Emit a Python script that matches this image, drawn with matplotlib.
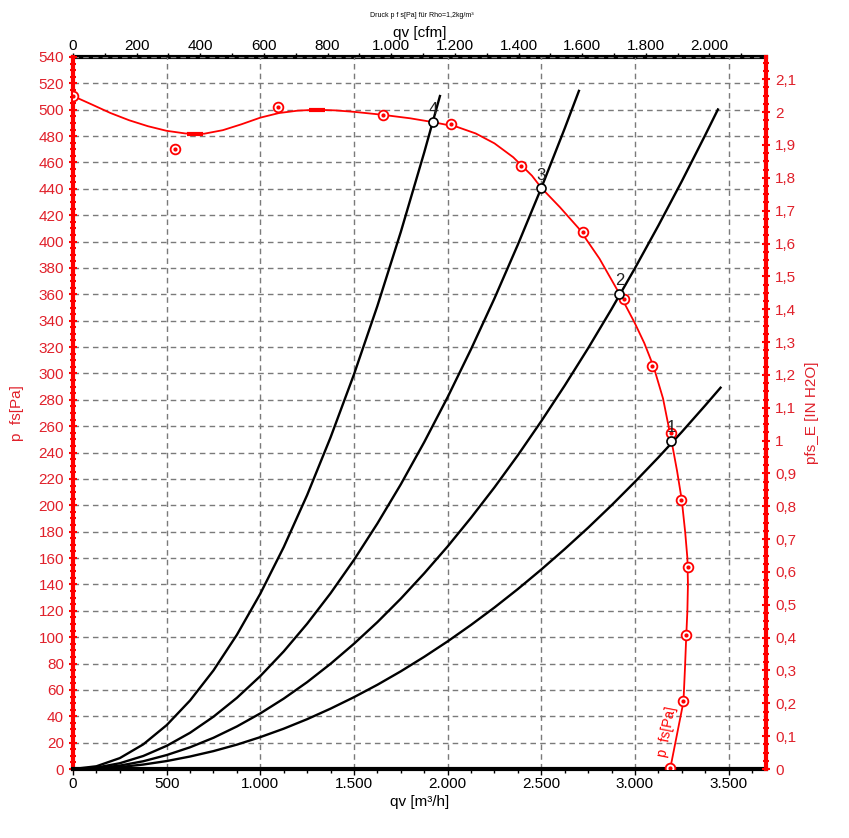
import numpy as np
import matplotlib.pyplot as plt
from matplotlib.ticker import MultipleLocator, FixedLocator, FuncFormatter

plt.rcParams['font.family'] = ['Liberation Sans', 'DejaVu Sans']

# fan curve p_fs [Pa] over qv [m3/h]
fan_qv = [0, 100, 200, 300, 400, 500, 600, 700, 800, 900, 1000, 1100, 1200, 1300, 1400,
          1500, 1650, 1800, 1922, 2050, 2150, 2250, 2350, 2450, 2500, 2600, 2700, 2811,
          2917, 3000, 3050, 3100, 3150, 3195, 3225, 3250, 3268, 3280, 3283, 3280, 3274,
          3267, 3259, 3188]
fan_p = [510.4, 504, 497.5, 492, 487.5, 484, 482, 481.8, 484.5, 489, 494, 497.5, 499.3,
         500, 499.5, 498.4, 496.2, 493.5, 490.6, 487, 482, 474.5, 464, 450, 440.8, 426,
         410, 387, 360.5, 338, 323, 305, 281, 249, 226, 204, 180, 160, 140, 120, 101,
         76, 51, 0]

# measured points
meas_qv = [0, 547, 1092, 1653, 2017, 2390, 2722, 2939, 3093, 3190, 3248, 3282, 3273, 3259, 3188]
meas_p = [510.4, 470, 502.4, 496.3, 489.2, 457.2, 407, 356.3, 306, 255, 204, 153.5, 101.5, 51.3, 0.5]

# short thick marks on the fan curve
dash_qv = [650, 1300]
dash_p = [481.8, 500]

# system curves
sys_qv_1 = [0, 125, 250, 375, 500, 625, 750, 875, 1000, 1125, 1250, 1375, 1500, 1625, 1750,
            1875, 2000, 2125, 2250, 2375, 2500, 2625, 2750, 2875, 3000, 3125, 3250, 3375, 3457]
sys_p_1 = [0, 0.4, 1.5, 3.4, 6.05, 9.5, 13.6, 18.5, 24.2, 30.6, 37.8, 45.8, 54.5, 63.9, 74.1,
           85.1, 96.8, 109.3, 122.5, 136.5, 151.3, 166.8, 183, 200, 217.8, 236.3, 255.6, 275.7, 289.2]
sys_qv_2 = [0, 125, 250, 375, 500, 625, 750, 875, 1000, 1125, 1250, 1375, 1500, 1625, 1750,
            1875, 2000, 2125, 2250, 2375, 2500, 2625, 2750, 2875, 3000, 3125, 3250, 3375, 3443]
sys_p_2 = [0, 0.7, 2.6, 5.9, 10.6, 16.5, 23.7, 32.3, 42.2, 53.4, 65.9, 79.8, 95, 111.4, 129.2,
           148.4, 168.8, 190.6, 213.6, 238, 263.8, 290.8, 319.1, 348.8, 379.8, 412.1, 445.7, 480.7, 500.2]
sys_qv_3 = [0, 125, 250, 375, 500, 625, 750, 875, 1000, 1125, 1250, 1375, 1500, 1625, 1750,
            1875, 2000, 2125, 2250, 2375, 2500, 2625, 2701]
sys_p_3 = [0, 1.1, 4.4, 9.9, 17.6, 27.5, 39.7, 54, 70.5, 89.2, 110.2, 133.3, 158.6, 186.2, 215.9,
           247.9, 282, 318.4, 356.9, 397.7, 440.6, 485.8, 514.3]
sys_qv_4 = [0, 125, 250, 375, 500, 625, 750, 875, 1000, 1125, 1250, 1375, 1500, 1625, 1750,
            1875, 1959]
sys_p_4 = [0, 2.1, 8.3, 18.7, 33.3, 52, 74.8, 101.8, 133, 168.3, 207.8, 251.5, 299.3, 351.2, 407.3,
           467.6, 510.4]

# operating points
op_qv = [3195, 2917, 2500, 1922]
op_p = [249, 360.5, 440.8, 490.6]
op_labels = ['1', '2', '3', '4']

# top axis ticks [cfm]
cfm_ticks = [0, 200, 400, 600, 800, 1000, 1200, 1400, 1600, 1800, 2000]
cfm_minor = [100, 300, 500, 700, 900, 1100, 1300, 1500, 1700, 1900, 2100]

RED = '#ff0000'
RED_TXT = '#e0202a'
GRID = '#7a7a7a'

def dot_thousands(v, pos=None):
    return f"{int(round(v)):,}".replace(",", ".")

def comma_dec(v, pos=None):
    if abs(v - round(v)) < 1e-6:
        return str(int(round(v)))
    return f"{v:.1f}".replace(".", ",")

fig = plt.figure(figsize=(8.49, 8.38), dpi=100)
ax = fig.add_axes([0.086, 0.0823, 0.8163, 0.8497])

ax.set_xlim(0, 3700)
ax.set_ylim(0, 540)

ax.xaxis.set_major_locator(MultipleLocator(500))
ax.xaxis.set_minor_locator(MultipleLocator(125))
ax.yaxis.set_major_locator(MultipleLocator(20))
ax.yaxis.set_minor_locator(MultipleLocator(5))
ax.xaxis.set_major_formatter(FuncFormatter(dot_thousands))
ax.grid(True, which='major', color=GRID, linestyle=(0, (4, 3)), linewidth=1)

# system curves
for q, p in [(sys_qv_1, sys_p_1), (sys_qv_2, sys_p_2), (sys_qv_3, sys_p_3), (sys_qv_4, sys_p_4)]:
    ax.plot(q, p, color='black', lw=1.7, zorder=3)

# fan curve
ax.plot(fan_qv, fan_p, color=RED, lw=1.3, zorder=4)
ax.plot(dash_qv, dash_p, linestyle='none', marker='_', ms=11, mew=3, color=RED, zorder=5)
ax.plot(meas_qv, meas_p, linestyle='none', marker='o', ms=7, mfc='white', mec=RED, mew=1.3, zorder=6)
ax.plot(meas_qv, meas_p, linestyle='none', marker='o', ms=2, color=RED, zorder=7)

# operating points
ax.plot(op_qv, op_p, linestyle='none', marker='o', ms=6.5, mfc='white', mec='black', mew=1.2, zorder=8)
for q, p, t in zip(op_qv, op_p, op_labels):
    ax.text(q, p + 4, t, fontsize=12, color='#222222', ha='center', va='bottom', zorder=9)

ax.text(3172, 28, 'p  fs[Pa]', color=RED, fontsize=10, rotation=79,
        ha='center', va='center', zorder=9)

# spines and ticks
ax.spines['left'].set_color(RED)
ax.spines['left'].set_linewidth(3)
ax.spines['bottom'].set_linewidth(3)
ax.spines['top'].set_visible(False)
ax.spines['right'].set_visible(False)
ax.tick_params(axis='y', colors=RED, labelcolor=RED_TXT, labelsize=11, direction='inout',
               length=6, width=1.5)
ax.tick_params(axis='y', which='minor', colors=RED, direction='inout', length=4, width=1.5)
ax.tick_params(axis='x', labelsize=11, direction='out', length=4, width=1, pad=1.5)
ax.tick_params(axis='x', which='minor', direction='out', length=3, width=1)
ax.set_xlabel('qv [m³/h]', fontsize=11, labelpad=3)
ax.set_ylabel('p  fs[Pa]', fontsize=11, color=RED_TXT)
ax.yaxis.set_label_coords(-0.071, 0.5)

# right axis in IN H2O
ax2 = ax.twinx()
ax2.set_ylim(0, 540 / 249.089)
ax2.yaxis.set_major_locator(MultipleLocator(0.1))
ax2.yaxis.set_minor_locator(MultipleLocator(0.025))
ax2.yaxis.set_major_formatter(FuncFormatter(comma_dec))
for s in ['left', 'top', 'bottom']:
    ax2.spines[s].set_visible(False)
ax2.spines['right'].set_color(RED)
ax2.spines['right'].set_linewidth(3)
ax2.tick_params(axis='y', colors=RED, labelcolor=RED_TXT, labelsize=11, direction='inout',
                length=6, width=1.5)
ax2.tick_params(axis='y', which='minor', colors=RED, direction='inout', length=4, width=1.5)
ax2.set_ylabel('pfs_E [IN H2O]', fontsize=11, color=RED_TXT)
ax2.yaxis.set_label_coords(1.056, 0.5)

# top axis in cfm
top = ax.secondary_xaxis('top', functions=(lambda q: q * 0.588578, lambda c: c / 0.588578))
top.xaxis.set_major_locator(FixedLocator(cfm_ticks))
top.xaxis.set_minor_locator(FixedLocator(cfm_minor))
top.xaxis.set_major_formatter(FuncFormatter(dot_thousands))
top.spines['top'].set_linewidth(3)
top.tick_params(axis='x', labelsize=11, direction='out', length=3, width=1, pad=0)
top.tick_params(axis='x', which='minor', direction='out', length=3, width=1)
top.set_xlabel('qv [cfm]', fontsize=11, labelpad=1)

fig.text(0.497, 0.981, 'Druck p f s[Pa] für Rho=1,2kg/m³', fontsize=5, ha='center', va='center')

fig.savefig('out.png', dpi=100)
